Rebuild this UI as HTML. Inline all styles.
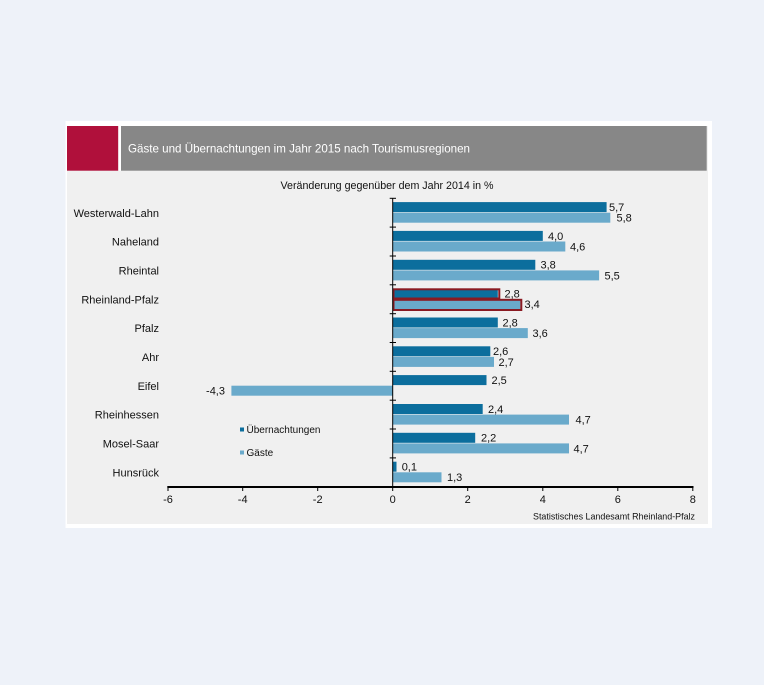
<!DOCTYPE html>
<html><head><meta charset="utf-8"><style>
html,body{margin:0;padding:0;background:#eef2f9;}
svg{display:block;}
text{font-family:"Liberation Sans",Arial,sans-serif;}
</style></head><body>
<svg width="764" height="685" viewBox="0 0 764 685" xmlns="http://www.w3.org/2000/svg">
<rect x="0" y="0" width="764" height="685" fill="#eef2f9"/>
<!-- panel -->
<rect x="65.5" y="121" width="646.5" height="407" fill="#ffffff"/>
<rect x="67" y="126" width="641" height="398" fill="#f0f0f0"/>
<!-- title bar -->
<rect x="67" y="126" width="51.3" height="44.7" fill="#b0103b"/>
<rect x="118.3" y="126" width="2.7" height="44.7" fill="#ffffff"/>
<rect x="121" y="126" width="585.7" height="44.7" fill="#878787"/>
<text x="128" y="152.5" font-size="12" fill="#ffffff" textLength="342" lengthAdjust="spacingAndGlyphs">Gäste und Übernachtungen im Jahr 2015 nach Tourismusregionen</text>
<text x="387" y="189" font-size="11" fill="#111" text-anchor="middle" textLength="213" lengthAdjust="spacingAndGlyphs">Veränderung gegenüber dem Jahr 2014 in %</text>

<!-- bars: x(v)=392.7+37.52v ; band top=198.3+i*28.84 -->
<g fill="#0c6e9d">
<rect x="392.7" y="202.1" width="213.9" height="10"/>
<rect x="392.7" y="230.9" width="150.1" height="10"/>
<rect x="392.7" y="259.8" width="142.6" height="10"/>
<rect x="392.7" y="288.6" width="105.1" height="10"/>
<rect x="392.7" y="317.5" width="105.1" height="10"/>
<rect x="392.7" y="346.3" width="97.6" height="10"/>
<rect x="392.7" y="375.1" width="93.8" height="10"/>
<rect x="392.7" y="404.0" width="90.0" height="10"/>
<rect x="392.7" y="432.8" width="82.5" height="10"/>
<rect x="392.7" y="461.7" width="3.8" height="10"/>
</g>
<g fill="#6aaacb">
<rect x="392.7" y="212.7" width="217.6" height="10"/>
<rect x="392.7" y="241.5" width="172.6" height="10"/>
<rect x="392.7" y="270.4" width="206.4" height="10"/>
<rect x="392.7" y="299.2" width="127.6" height="10"/>
<rect x="392.7" y="328.1" width="135.1" height="10"/>
<rect x="392.7" y="356.9" width="101.3" height="10"/>
<rect x="231.4" y="385.7" width="161.3" height="10"/>
<rect x="392.7" y="414.6" width="176.3" height="10"/>
<rect x="392.7" y="443.4" width="176.3" height="10"/>
<rect x="392.7" y="472.3" width="48.8" height="10"/>
</g>
<!-- highlight Rheinland-Pfalz -->
<rect x="393.5" y="289.3" width="105.8" height="9.2" fill="none" stroke="#8a1a22" stroke-width="2"/>
<rect x="393.5" y="299.8" width="127.8" height="10.2" fill="none" stroke="#8a1a22" stroke-width="2"/>

<!-- vertical axis and ticks -->
<line x1="392.7" y1="198" x2="392.7" y2="491" stroke="#000" stroke-width="1"/>
<g stroke="#000" stroke-width="1">
<line x1="389.7" y1="198.3" x2="396" y2="198.3"/>
<line x1="389.7" y1="227.1" x2="396" y2="227.1"/>
<line x1="389.7" y1="256.0" x2="396" y2="256.0"/>
<line x1="389.7" y1="284.8" x2="396" y2="284.8"/>
<line x1="389.7" y1="313.7" x2="396" y2="313.7"/>
<line x1="389.7" y1="342.5" x2="396" y2="342.5"/>
<line x1="389.7" y1="371.3" x2="396" y2="371.3"/>
<line x1="389.7" y1="400.2" x2="396" y2="400.2"/>
<line x1="389.7" y1="429.0" x2="396" y2="429.0"/>
<line x1="389.7" y1="457.9" x2="396" y2="457.9"/>
</g>
<!-- x axis -->
<line x1="167.3" y1="487" x2="693.5" y2="487" stroke="#000" stroke-width="2"/>
<g stroke="#000" stroke-width="1">
<line x1="168" y1="487" x2="168" y2="491"/>
<line x1="242.7" y1="487" x2="242.7" y2="491"/>
<line x1="317.7" y1="487" x2="317.7" y2="491"/>
<line x1="467.7" y1="487" x2="467.7" y2="491"/>
<line x1="542.8" y1="487" x2="542.8" y2="491"/>
<line x1="617.8" y1="487" x2="617.8" y2="491"/>
<line x1="692.8" y1="487" x2="692.8" y2="491"/>
</g>
<g font-size="11" fill="#111" text-anchor="middle">
<text x="168" y="503">-6</text>
<text x="242.7" y="503">-4</text>
<text x="317.7" y="503">-2</text>
<text x="392.7" y="503">0</text>
<text x="467.7" y="503">2</text>
<text x="542.8" y="503">4</text>
<text x="617.8" y="503">6</text>
<text x="692.8" y="503">8</text>
</g>
<text x="695" y="519.5" font-size="9.5" fill="#111" text-anchor="end" textLength="162" lengthAdjust="spacingAndGlyphs">Statistisches Landesamt Rheinland-Pfalz</text>

<!-- category labels -->
<g font-size="11" fill="#111" text-anchor="end">
<text x="159" y="216.8">Westerwald-Lahn</text>
<text x="159" y="245.6">Naheland</text>
<text x="159" y="274.5">Rheintal</text>
<text x="159" y="303.3">Rheinland-Pfalz</text>
<text x="159" y="332.2">Pfalz</text>
<text x="159" y="361.0">Ahr</text>
<text x="159" y="389.8">Eifel</text>
<text x="159" y="418.7">Rheinhessen</text>
<text x="159" y="447.5">Mosel-Saar</text>
<text x="159" y="476.4">Hunsrück</text>
</g>

<!-- value labels -->
<g font-size="11" fill="#111">
<text x="609" y="211">5,7</text>
<text x="616.5" y="221.5">5,8</text>
<text x="548" y="239.8">4,0</text>
<text x="570" y="250.4">4,6</text>
<text x="540.5" y="268.7">3,8</text>
<text x="604.5" y="279.3">5,5</text>
<text x="504.5" y="297.5">2,8</text>
<text x="524.5" y="308.1">3,4</text>
<text x="502.5" y="326.4">2,8</text>
<text x="532.5" y="337.0">3,6</text>
<text x="493" y="355.2">2,6</text>
<text x="498.5" y="365.8">2,7</text>
<text x="491.5" y="384.0">2,5</text>
<text x="225" y="394.6" text-anchor="end">-4,3</text>
<text x="488" y="412.9">2,4</text>
<text x="575.5" y="423.5">4,7</text>
<text x="481" y="441.7">2,2</text>
<text x="573.5" y="452.3">4,7</text>
<text x="401.7" y="470.6">0,1</text>
<text x="447" y="481.2">1,3</text>
</g>

<!-- legend -->
<rect x="240" y="427.5" width="4" height="4" fill="#0c6e9d"/>
<text x="246.5" y="432.8" font-size="10" fill="#111">Übernachtungen</text>
<rect x="240" y="450.5" width="4" height="4" fill="#6aaacb"/>
<text x="246.5" y="456" font-size="10" fill="#111">Gäste</text>
</svg>
</body></html>
